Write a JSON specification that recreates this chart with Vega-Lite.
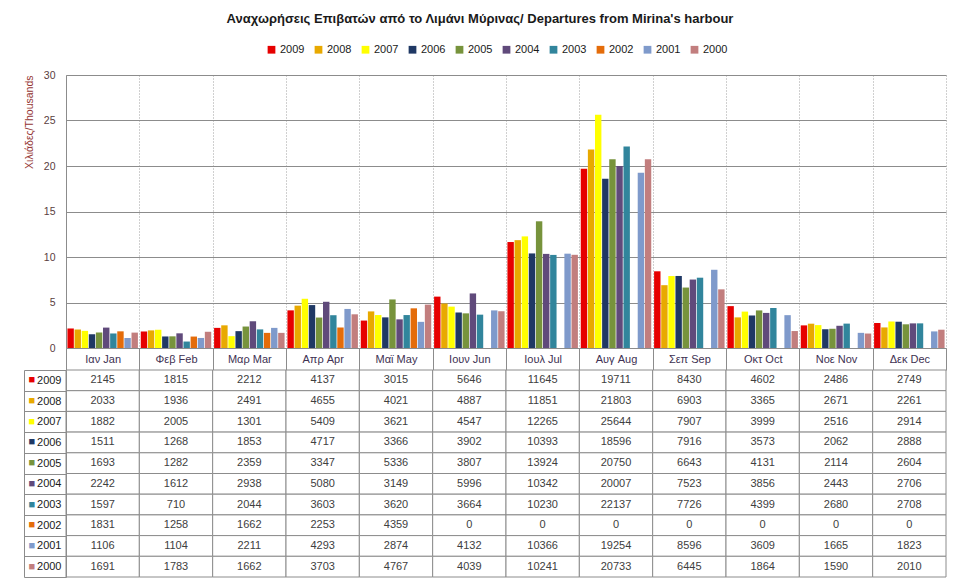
{
  "$schema": "https://vega.github.io/schema/vega-lite/v6.json",
  "description": "Monthly passenger departures from Mirina harbour, 2000-2009, grouped bars with a data table below.",
  "background": "white",
  "padding": {"left": 23, "top": 13, "right": 5, "bottom": 5},
  "title": {
    "text": "Αναχωρήσεις Επιβατών από το Λιμάνι Μύρινας/ Departures from  Mirina's harbour",
    "font": "Liberation Sans",
    "fontSize": 13,
    "fontWeight": "bold",
    "color": "#1a1a1a",
    "anchor": "middle",
    "dx": -5,
    "offset": 18
  },
  "config": {
    "view": {"stroke": null},
    "font": "Liberation Sans"
  },
  "data": {
    "values": [
      {"year": "2009", "month": "Ιαν  Jan", "value": 2145},
      {"year": "2009", "month": "Φεβ  Feb", "value": 1815},
      {"year": "2009", "month": "Μαρ  Mar", "value": 2212},
      {"year": "2009", "month": "Απρ  Apr", "value": 4137},
      {"year": "2009", "month": "Μαϊ  May", "value": 3015},
      {"year": "2009", "month": "Ιουν  Jun", "value": 5646},
      {"year": "2009", "month": "Ιουλ  Jul", "value": 11645},
      {"year": "2009", "month": "Αυγ  Aug", "value": 19711},
      {"year": "2009", "month": "Σεπ  Sep", "value": 8430},
      {"year": "2009", "month": "Οκτ  Oct", "value": 4602},
      {"year": "2009", "month": "Νοε  Nov", "value": 2486},
      {"year": "2009", "month": "Δεκ  Dec", "value": 2749},
      {"year": "2008", "month": "Ιαν  Jan", "value": 2033},
      {"year": "2008", "month": "Φεβ  Feb", "value": 1936},
      {"year": "2008", "month": "Μαρ  Mar", "value": 2491},
      {"year": "2008", "month": "Απρ  Apr", "value": 4655},
      {"year": "2008", "month": "Μαϊ  May", "value": 4021},
      {"year": "2008", "month": "Ιουν  Jun", "value": 4887},
      {"year": "2008", "month": "Ιουλ  Jul", "value": 11851},
      {"year": "2008", "month": "Αυγ  Aug", "value": 21803},
      {"year": "2008", "month": "Σεπ  Sep", "value": 6903},
      {"year": "2008", "month": "Οκτ  Oct", "value": 3365},
      {"year": "2008", "month": "Νοε  Nov", "value": 2671},
      {"year": "2008", "month": "Δεκ  Dec", "value": 2261},
      {"year": "2007", "month": "Ιαν  Jan", "value": 1882},
      {"year": "2007", "month": "Φεβ  Feb", "value": 2005},
      {"year": "2007", "month": "Μαρ  Mar", "value": 1301},
      {"year": "2007", "month": "Απρ  Apr", "value": 5409},
      {"year": "2007", "month": "Μαϊ  May", "value": 3621},
      {"year": "2007", "month": "Ιουν  Jun", "value": 4547},
      {"year": "2007", "month": "Ιουλ  Jul", "value": 12265},
      {"year": "2007", "month": "Αυγ  Aug", "value": 25644},
      {"year": "2007", "month": "Σεπ  Sep", "value": 7907},
      {"year": "2007", "month": "Οκτ  Oct", "value": 3999},
      {"year": "2007", "month": "Νοε  Nov", "value": 2516},
      {"year": "2007", "month": "Δεκ  Dec", "value": 2914},
      {"year": "2006", "month": "Ιαν  Jan", "value": 1511},
      {"year": "2006", "month": "Φεβ  Feb", "value": 1268},
      {"year": "2006", "month": "Μαρ  Mar", "value": 1853},
      {"year": "2006", "month": "Απρ  Apr", "value": 4717},
      {"year": "2006", "month": "Μαϊ  May", "value": 3366},
      {"year": "2006", "month": "Ιουν  Jun", "value": 3902},
      {"year": "2006", "month": "Ιουλ  Jul", "value": 10393},
      {"year": "2006", "month": "Αυγ  Aug", "value": 18596},
      {"year": "2006", "month": "Σεπ  Sep", "value": 7916},
      {"year": "2006", "month": "Οκτ  Oct", "value": 3573},
      {"year": "2006", "month": "Νοε  Nov", "value": 2062},
      {"year": "2006", "month": "Δεκ  Dec", "value": 2888},
      {"year": "2005", "month": "Ιαν  Jan", "value": 1693},
      {"year": "2005", "month": "Φεβ  Feb", "value": 1282},
      {"year": "2005", "month": "Μαρ  Mar", "value": 2359},
      {"year": "2005", "month": "Απρ  Apr", "value": 3347},
      {"year": "2005", "month": "Μαϊ  May", "value": 5336},
      {"year": "2005", "month": "Ιουν  Jun", "value": 3807},
      {"year": "2005", "month": "Ιουλ  Jul", "value": 13924},
      {"year": "2005", "month": "Αυγ  Aug", "value": 20750},
      {"year": "2005", "month": "Σεπ  Sep", "value": 6643},
      {"year": "2005", "month": "Οκτ  Oct", "value": 4131},
      {"year": "2005", "month": "Νοε  Nov", "value": 2114},
      {"year": "2005", "month": "Δεκ  Dec", "value": 2604},
      {"year": "2004", "month": "Ιαν  Jan", "value": 2242},
      {"year": "2004", "month": "Φεβ  Feb", "value": 1612},
      {"year": "2004", "month": "Μαρ  Mar", "value": 2938},
      {"year": "2004", "month": "Απρ  Apr", "value": 5080},
      {"year": "2004", "month": "Μαϊ  May", "value": 3149},
      {"year": "2004", "month": "Ιουν  Jun", "value": 5996},
      {"year": "2004", "month": "Ιουλ  Jul", "value": 10342},
      {"year": "2004", "month": "Αυγ  Aug", "value": 20007},
      {"year": "2004", "month": "Σεπ  Sep", "value": 7523},
      {"year": "2004", "month": "Οκτ  Oct", "value": 3856},
      {"year": "2004", "month": "Νοε  Nov", "value": 2443},
      {"year": "2004", "month": "Δεκ  Dec", "value": 2706},
      {"year": "2003", "month": "Ιαν  Jan", "value": 1597},
      {"year": "2003", "month": "Φεβ  Feb", "value": 710},
      {"year": "2003", "month": "Μαρ  Mar", "value": 2044},
      {"year": "2003", "month": "Απρ  Apr", "value": 3603},
      {"year": "2003", "month": "Μαϊ  May", "value": 3620},
      {"year": "2003", "month": "Ιουν  Jun", "value": 3664},
      {"year": "2003", "month": "Ιουλ  Jul", "value": 10230},
      {"year": "2003", "month": "Αυγ  Aug", "value": 22137},
      {"year": "2003", "month": "Σεπ  Sep", "value": 7726},
      {"year": "2003", "month": "Οκτ  Oct", "value": 4399},
      {"year": "2003", "month": "Νοε  Nov", "value": 2680},
      {"year": "2003", "month": "Δεκ  Dec", "value": 2708},
      {"year": "2002", "month": "Ιαν  Jan", "value": 1831},
      {"year": "2002", "month": "Φεβ  Feb", "value": 1258},
      {"year": "2002", "month": "Μαρ  Mar", "value": 1662},
      {"year": "2002", "month": "Απρ  Apr", "value": 2253},
      {"year": "2002", "month": "Μαϊ  May", "value": 4359},
      {"year": "2002", "month": "Ιουν  Jun", "value": 0},
      {"year": "2002", "month": "Ιουλ  Jul", "value": 0},
      {"year": "2002", "month": "Αυγ  Aug", "value": 0},
      {"year": "2002", "month": "Σεπ  Sep", "value": 0},
      {"year": "2002", "month": "Οκτ  Oct", "value": 0},
      {"year": "2002", "month": "Νοε  Nov", "value": 0},
      {"year": "2002", "month": "Δεκ  Dec", "value": 0},
      {"year": "2001", "month": "Ιαν  Jan", "value": 1106},
      {"year": "2001", "month": "Φεβ  Feb", "value": 1104},
      {"year": "2001", "month": "Μαρ  Mar", "value": 2211},
      {"year": "2001", "month": "Απρ  Apr", "value": 4293},
      {"year": "2001", "month": "Μαϊ  May", "value": 2874},
      {"year": "2001", "month": "Ιουν  Jun", "value": 4132},
      {"year": "2001", "month": "Ιουλ  Jul", "value": 10366},
      {"year": "2001", "month": "Αυγ  Aug", "value": 19254},
      {"year": "2001", "month": "Σεπ  Sep", "value": 8596},
      {"year": "2001", "month": "Οκτ  Oct", "value": 3609},
      {"year": "2001", "month": "Νοε  Nov", "value": 1665},
      {"year": "2001", "month": "Δεκ  Dec", "value": 1823},
      {"year": "2000", "month": "Ιαν  Jan", "value": 1691},
      {"year": "2000", "month": "Φεβ  Feb", "value": 1783},
      {"year": "2000", "month": "Μαρ  Mar", "value": 1662},
      {"year": "2000", "month": "Απρ  Apr", "value": 3703},
      {"year": "2000", "month": "Μαϊ  May", "value": 4767},
      {"year": "2000", "month": "Ιουν  Jun", "value": 4039},
      {"year": "2000", "month": "Ιουλ  Jul", "value": 10241},
      {"year": "2000", "month": "Αυγ  Aug", "value": 20733},
      {"year": "2000", "month": "Σεπ  Sep", "value": 6445},
      {"year": "2000", "month": "Οκτ  Oct", "value": 1864},
      {"year": "2000", "month": "Νοε  Nov", "value": 1590},
      {"year": "2000", "month": "Δεκ  Dec", "value": 2010}
    ]
  },
  "bounds": "flush",
  "spacing": 22,
  "vconcat": [
    {
      "width": 880,
      "height": 273,
      "mark": {"type": "bar"},
      "encoding": {
        "x": {
          "field": "month",
          "type": "nominal",
          "sort": null,
          "scale": {"paddingInner": 0, "paddingOuter": 0},
          "axis": {
            "title": null,
            "labelAngle": 0,
            "tickBand": "extent",
            "ticks": true,
            "tickSize": 22,
            "tickColor": "#8c8c8c",
            "domainColor": "#8c8c8c",
            "grid": true,
            "gridDash": [1, 2],
            "gridColor": "#a0a0a0",
            "labelPadding": -17,
            "labelBaseline": "top",
            "labelFontSize": 11,
            "labelColor": "#403152"
          }
        },
        "xOffset": {
          "field": "year",
          "type": "nominal",
          "sort": null,
          "scale": {"paddingInner": 0.1, "paddingOuter": 0.2}
        },
        "y": {
          "field": "value",
          "type": "quantitative",
          "scale": {"domain": [0, 30000]},
          "axis": {
            "title": "Χιλιάδες/Thousands",
            "titleColor": "#953735",
            "titleFontSize": 10.5,
            "titleFontWeight": "normal",
            "titleAnchor": "end",
            "titlePadding": 9,
            "values": [0, 5000, 10000, 15000, 20000, 25000, 30000],
            "labelExpr": "datum.value / 1000",
            "labelColor": "#5a4040",
            "labelFontSize": 10.5,
            "labelPadding": 11,
            "ticks": false,
            "domainColor": "#8c8c8c",
            "gridColor": "#8c8c8c"
          }
        },
        "color": {
          "field": "year",
          "type": "nominal",
          "scale": {
            "domain": ["2009", "2008", "2007", "2006", "2005", "2004", "2003", "2002", "2001", "2000"],
            "range": ["#e60000", "#e8a900", "#ffff00", "#1f3864", "#77933c", "#604a7b", "#31859c", "#e46c0a", "#7f9acb", "#c27e7e"]
          },
          "legend": {
            "title": null,
            "orient": "none",
            "direction": "horizontal",
            "legendX": 200,
            "legendY": -31,
            "symbolType": "square",
            "symbolSize": 60,
            "symbolStrokeWidth": 0,
            "symbolOpacity": 1,
            "labelFontSize": 11,
            "labelColor": "#1a1a1a",
            "labelOffset": 3,
            "columnPadding": 8
          }
        }
      }
    },
    {
      "width": 880,
      "height": 207,
      "layer": [
        {
          "mark": {"type": "rect", "fill": "white", "stroke": "#8c8c8c", "strokeWidth": 1},
          "encoding": {
            "x": {"field": "month", "type": "nominal", "sort": null, "axis": null},
            "y": {
              "field": "year",
              "type": "nominal",
              "sort": null,
              "axis": {
                "title": null,
                "orient": "left",
                "tickBand": "extent",
                "ticks": true,
                "tickSize": 42,
                "tickColor": "#8c8c8c",
                "domainColor": "#8c8c8c",
                "labelPadding": -37,
                "labelFontSize": 11,
                "labelColor": "#1a1a1a"
              }
            }
          }
        },
        {
          "mark": {"type": "text", "fontSize": 11, "color": "#404040"},
          "encoding": {
            "x": {"field": "month", "type": "nominal", "sort": null, "axis": null},
            "y": {
              "field": "year",
              "type": "nominal",
              "sort": null,
              "axis": {
                "title": null,
                "orient": "left",
                "offset": 42,
                "ticks": false,
                "domain": true,
                "domainColor": "#8c8c8c",
                "labelExpr": "'■'",
                "labelAlign": "left",
                "labelPadding": -4,
                "labelFontSize": 11,
                "labelColor": {"expr": "scale('color', datum.value)"}
              }
            },
            "text": {"field": "value", "type": "quantitative", "format": "d"}
          }
        }
      ],
      "resolve": {"axis": {"y": "independent"}}
    }
  ]
}
